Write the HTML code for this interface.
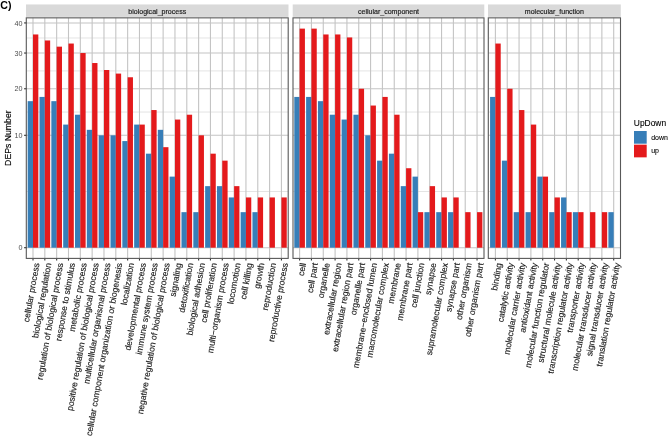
<!DOCTYPE html>
<html><head><meta charset="utf-8"><style>
html,body{margin:0;padding:0;background:#fff;}
body{width:669px;height:437px;overflow:hidden;}
svg{display:block;font-family:"Liberation Sans",sans-serif;filter:blur(0.4px);}
</style></head><body>
<svg width="669" height="437" viewBox="0 0 669 437">
<rect x="0" y="0" width="669" height="437" fill="#fff"/>
<rect x="26.00" y="4.45" width="262.50" height="12.45" fill="#D9D9D9"/>
<text x="157.25" y="13.7" font-size="7.05" fill="#1A1A1A" stroke="#1A1A1A" stroke-width="0.15" text-anchor="middle">biological_process</text>
<line x1="26.3" x2="288.2" y1="191.51" y2="191.51" stroke="#D9D9D9" stroke-width="0.7"/>
<line x1="26.3" x2="288.2" y1="112.04" y2="112.04" stroke="#D9D9D9" stroke-width="0.7"/>
<line x1="26.3" x2="288.2" y1="70.90" y2="70.90" stroke="#D9D9D9" stroke-width="0.7"/>
<line x1="26.3" x2="288.2" y1="37.98" y2="37.98" stroke="#D9D9D9" stroke-width="0.7"/>
<line x1="26.3" x2="288.2" y1="247.70" y2="247.70" stroke="#C4C4C4" stroke-width="1.1"/>
<line x1="26.3" x2="288.2" y1="135.31" y2="135.31" stroke="#C4C4C4" stroke-width="1.1"/>
<line x1="26.3" x2="288.2" y1="88.76" y2="88.76" stroke="#C4C4C4" stroke-width="1.1"/>
<line x1="26.3" x2="288.2" y1="53.04" y2="53.04" stroke="#C4C4C4" stroke-width="1.1"/>
<line x1="26.3" x2="288.2" y1="22.93" y2="22.93" stroke="#C4C4C4" stroke-width="1.1"/>
<line x1="33.00" x2="33.00" y1="17.85" y2="258.4" stroke="#C4C4C4" stroke-width="1.1"/>
<line x1="44.83" x2="44.83" y1="17.85" y2="258.4" stroke="#C4C4C4" stroke-width="1.1"/>
<line x1="56.66" x2="56.66" y1="17.85" y2="258.4" stroke="#C4C4C4" stroke-width="1.1"/>
<line x1="68.49" x2="68.49" y1="17.85" y2="258.4" stroke="#C4C4C4" stroke-width="1.1"/>
<line x1="80.32" x2="80.32" y1="17.85" y2="258.4" stroke="#C4C4C4" stroke-width="1.1"/>
<line x1="92.15" x2="92.15" y1="17.85" y2="258.4" stroke="#C4C4C4" stroke-width="1.1"/>
<line x1="103.98" x2="103.98" y1="17.85" y2="258.4" stroke="#C4C4C4" stroke-width="1.1"/>
<line x1="115.81" x2="115.81" y1="17.85" y2="258.4" stroke="#C4C4C4" stroke-width="1.1"/>
<line x1="127.64" x2="127.64" y1="17.85" y2="258.4" stroke="#C4C4C4" stroke-width="1.1"/>
<line x1="139.47" x2="139.47" y1="17.85" y2="258.4" stroke="#C4C4C4" stroke-width="1.1"/>
<line x1="151.30" x2="151.30" y1="17.85" y2="258.4" stroke="#C4C4C4" stroke-width="1.1"/>
<line x1="163.13" x2="163.13" y1="17.85" y2="258.4" stroke="#C4C4C4" stroke-width="1.1"/>
<line x1="174.96" x2="174.96" y1="17.85" y2="258.4" stroke="#C4C4C4" stroke-width="1.1"/>
<line x1="186.79" x2="186.79" y1="17.85" y2="258.4" stroke="#C4C4C4" stroke-width="1.1"/>
<line x1="198.62" x2="198.62" y1="17.85" y2="258.4" stroke="#C4C4C4" stroke-width="1.1"/>
<line x1="210.45" x2="210.45" y1="17.85" y2="258.4" stroke="#C4C4C4" stroke-width="1.1"/>
<line x1="222.28" x2="222.28" y1="17.85" y2="258.4" stroke="#C4C4C4" stroke-width="1.1"/>
<line x1="234.11" x2="234.11" y1="17.85" y2="258.4" stroke="#C4C4C4" stroke-width="1.1"/>
<line x1="245.94" x2="245.94" y1="17.85" y2="258.4" stroke="#C4C4C4" stroke-width="1.1"/>
<line x1="257.77" x2="257.77" y1="17.85" y2="258.4" stroke="#C4C4C4" stroke-width="1.1"/>
<line x1="269.60" x2="269.60" y1="17.85" y2="258.4" stroke="#C4C4C4" stroke-width="1.1"/>
<line x1="281.43" x2="281.43" y1="17.85" y2="258.4" stroke="#C4C4C4" stroke-width="1.1"/>
<rect x="27.68" y="101.16" width="5.32" height="146.54" fill="#377EB8"/>
<rect x="33.00" y="34.46" width="5.32" height="213.24" fill="#E41A1C"/>
<line x1="33.00" x2="33.00" y1="258.4" y2="260.60" stroke="#333" stroke-width="1.1"/>
<text transform="translate(39.50,263.50) rotate(-80)" font-size="8.65" fill="#1A1A1A" stroke="#1A1A1A" stroke-width="0.15" text-anchor="end">cellular process</text>
<rect x="39.51" y="96.92" width="5.32" height="150.78" fill="#377EB8"/>
<rect x="44.83" y="40.47" width="5.32" height="207.23" fill="#E41A1C"/>
<line x1="44.83" x2="44.83" y1="258.4" y2="260.60" stroke="#333" stroke-width="1.1"/>
<text transform="translate(51.33,263.50) rotate(-80)" font-size="8.65" fill="#1A1A1A" stroke="#1A1A1A" stroke-width="0.15" text-anchor="end">biological regulation</text>
<rect x="51.34" y="101.16" width="5.32" height="146.54" fill="#377EB8"/>
<rect x="56.66" y="46.66" width="5.32" height="201.04" fill="#E41A1C"/>
<line x1="56.66" x2="56.66" y1="258.4" y2="260.60" stroke="#333" stroke-width="1.1"/>
<text transform="translate(63.16,263.50) rotate(-80)" font-size="8.65" fill="#1A1A1A" stroke="#1A1A1A" stroke-width="0.15" text-anchor="end">regulation of biological process</text>
<rect x="63.17" y="124.59" width="5.32" height="123.11" fill="#377EB8"/>
<rect x="68.49" y="43.54" width="5.32" height="204.16" fill="#E41A1C"/>
<line x1="68.49" x2="68.49" y1="258.4" y2="260.60" stroke="#333" stroke-width="1.1"/>
<text transform="translate(74.99,263.50) rotate(-80)" font-size="8.65" fill="#1A1A1A" stroke="#1A1A1A" stroke-width="0.15" text-anchor="end">response to stimulus</text>
<rect x="75.00" y="114.72" width="5.32" height="132.98" fill="#377EB8"/>
<rect x="80.32" y="53.04" width="5.32" height="194.66" fill="#E41A1C"/>
<line x1="80.32" x2="80.32" y1="258.4" y2="260.60" stroke="#333" stroke-width="1.1"/>
<text transform="translate(86.82,263.50) rotate(-80)" font-size="8.65" fill="#1A1A1A" stroke="#1A1A1A" stroke-width="0.15" text-anchor="end">metabolic process</text>
<rect x="86.83" y="129.83" width="5.32" height="117.87" fill="#377EB8"/>
<rect x="92.15" y="63.03" width="5.32" height="184.67" fill="#E41A1C"/>
<line x1="92.15" x2="92.15" y1="258.4" y2="260.60" stroke="#333" stroke-width="1.1"/>
<text transform="translate(98.65,263.50) rotate(-80)" font-size="8.65" fill="#1A1A1A" stroke="#1A1A1A" stroke-width="0.15" text-anchor="end">positive regulation of biological process</text>
<rect x="98.66" y="135.31" width="5.32" height="112.39" fill="#377EB8"/>
<rect x="103.98" y="70.00" width="5.32" height="177.70" fill="#E41A1C"/>
<line x1="103.98" x2="103.98" y1="258.4" y2="260.60" stroke="#333" stroke-width="1.1"/>
<text transform="translate(110.48,263.50) rotate(-80)" font-size="8.65" fill="#1A1A1A" stroke="#1A1A1A" stroke-width="0.15" text-anchor="end">multicellular organismal process</text>
<rect x="110.49" y="135.31" width="5.32" height="112.39" fill="#377EB8"/>
<rect x="115.81" y="73.59" width="5.32" height="174.11" fill="#E41A1C"/>
<line x1="115.81" x2="115.81" y1="258.4" y2="260.60" stroke="#333" stroke-width="1.1"/>
<text transform="translate(122.31,263.50) rotate(-80)" font-size="8.65" fill="#1A1A1A" stroke="#1A1A1A" stroke-width="0.15" text-anchor="end">cellular component organization or biogenesis</text>
<rect x="122.32" y="141.08" width="5.32" height="106.62" fill="#377EB8"/>
<rect x="127.64" y="77.26" width="5.32" height="170.44" fill="#E41A1C"/>
<line x1="127.64" x2="127.64" y1="258.4" y2="260.60" stroke="#333" stroke-width="1.1"/>
<text transform="translate(134.14,263.50) rotate(-80)" font-size="8.65" fill="#1A1A1A" stroke="#1A1A1A" stroke-width="0.15" text-anchor="end">localization</text>
<rect x="134.15" y="124.59" width="5.32" height="123.11" fill="#377EB8"/>
<rect x="139.47" y="124.59" width="5.32" height="123.11" fill="#E41A1C"/>
<line x1="139.47" x2="139.47" y1="258.4" y2="260.60" stroke="#333" stroke-width="1.1"/>
<text transform="translate(145.97,263.50) rotate(-80)" font-size="8.65" fill="#1A1A1A" stroke="#1A1A1A" stroke-width="0.15" text-anchor="end">developmental process</text>
<rect x="145.98" y="153.67" width="5.32" height="94.03" fill="#377EB8"/>
<rect x="151.30" y="110.05" width="5.32" height="137.65" fill="#E41A1C"/>
<line x1="151.30" x2="151.30" y1="258.4" y2="260.60" stroke="#333" stroke-width="1.1"/>
<text transform="translate(157.80,263.50) rotate(-80)" font-size="8.65" fill="#1A1A1A" stroke="#1A1A1A" stroke-width="0.15" text-anchor="end">immune system process</text>
<rect x="157.81" y="129.83" width="5.32" height="117.87" fill="#377EB8"/>
<rect x="163.13" y="147.18" width="5.32" height="100.52" fill="#E41A1C"/>
<line x1="163.13" x2="163.13" y1="258.4" y2="260.60" stroke="#333" stroke-width="1.1"/>
<text transform="translate(169.63,263.50) rotate(-80)" font-size="8.65" fill="#1A1A1A" stroke="#1A1A1A" stroke-width="0.15" text-anchor="end">negative regulation of biological process</text>
<rect x="169.64" y="176.62" width="5.32" height="71.08" fill="#377EB8"/>
<rect x="174.96" y="119.56" width="5.32" height="128.14" fill="#E41A1C"/>
<line x1="174.96" x2="174.96" y1="258.4" y2="260.60" stroke="#333" stroke-width="1.1"/>
<text transform="translate(181.46,263.50) rotate(-80)" font-size="8.65" fill="#1A1A1A" stroke="#1A1A1A" stroke-width="0.15" text-anchor="end">signaling</text>
<rect x="181.47" y="212.16" width="5.32" height="35.54" fill="#377EB8"/>
<rect x="186.79" y="114.72" width="5.32" height="132.98" fill="#E41A1C"/>
<line x1="186.79" x2="186.79" y1="258.4" y2="260.60" stroke="#333" stroke-width="1.1"/>
<text transform="translate(193.29,263.50) rotate(-80)" font-size="8.65" fill="#1A1A1A" stroke="#1A1A1A" stroke-width="0.15" text-anchor="end">detoxification</text>
<rect x="193.30" y="212.16" width="5.32" height="35.54" fill="#377EB8"/>
<rect x="198.62" y="135.31" width="5.32" height="112.39" fill="#E41A1C"/>
<line x1="198.62" x2="198.62" y1="258.4" y2="260.60" stroke="#333" stroke-width="1.1"/>
<text transform="translate(205.12,263.50) rotate(-80)" font-size="8.65" fill="#1A1A1A" stroke="#1A1A1A" stroke-width="0.15" text-anchor="end">biological adhesion</text>
<rect x="205.13" y="186.14" width="5.32" height="61.56" fill="#377EB8"/>
<rect x="210.45" y="153.67" width="5.32" height="94.03" fill="#E41A1C"/>
<line x1="210.45" x2="210.45" y1="258.4" y2="260.60" stroke="#333" stroke-width="1.1"/>
<text transform="translate(216.95,263.50) rotate(-80)" font-size="8.65" fill="#1A1A1A" stroke="#1A1A1A" stroke-width="0.15" text-anchor="end">cell proliferation</text>
<rect x="216.96" y="186.14" width="5.32" height="61.56" fill="#377EB8"/>
<rect x="222.28" y="160.65" width="5.32" height="87.05" fill="#E41A1C"/>
<line x1="222.28" x2="222.28" y1="258.4" y2="260.60" stroke="#333" stroke-width="1.1"/>
<text transform="translate(228.78,263.50) rotate(-80)" font-size="8.65" fill="#1A1A1A" stroke="#1A1A1A" stroke-width="0.15" text-anchor="end">multi−organism process</text>
<rect x="228.79" y="197.44" width="5.32" height="50.26" fill="#377EB8"/>
<rect x="234.11" y="186.14" width="5.32" height="61.56" fill="#E41A1C"/>
<line x1="234.11" x2="234.11" y1="258.4" y2="260.60" stroke="#333" stroke-width="1.1"/>
<text transform="translate(240.61,263.50) rotate(-80)" font-size="8.65" fill="#1A1A1A" stroke="#1A1A1A" stroke-width="0.15" text-anchor="end">locomotion</text>
<rect x="240.62" y="212.16" width="5.32" height="35.54" fill="#377EB8"/>
<rect x="245.94" y="197.44" width="5.32" height="50.26" fill="#E41A1C"/>
<line x1="245.94" x2="245.94" y1="258.4" y2="260.60" stroke="#333" stroke-width="1.1"/>
<text transform="translate(252.44,263.50) rotate(-80)" font-size="8.65" fill="#1A1A1A" stroke="#1A1A1A" stroke-width="0.15" text-anchor="end">cell killing</text>
<rect x="252.45" y="212.16" width="5.32" height="35.54" fill="#377EB8"/>
<rect x="257.77" y="197.44" width="5.32" height="50.26" fill="#E41A1C"/>
<line x1="257.77" x2="257.77" y1="258.4" y2="260.60" stroke="#333" stroke-width="1.1"/>
<text transform="translate(264.27,263.50) rotate(-80)" font-size="8.65" fill="#1A1A1A" stroke="#1A1A1A" stroke-width="0.15" text-anchor="end">growth</text>
<rect x="269.60" y="197.44" width="5.32" height="50.26" fill="#E41A1C"/>
<line x1="269.60" x2="269.60" y1="258.4" y2="260.60" stroke="#333" stroke-width="1.1"/>
<text transform="translate(276.10,263.50) rotate(-80)" font-size="8.65" fill="#1A1A1A" stroke="#1A1A1A" stroke-width="0.15" text-anchor="end">reproduction</text>
<rect x="281.43" y="197.44" width="5.32" height="50.26" fill="#E41A1C"/>
<line x1="281.43" x2="281.43" y1="258.4" y2="260.60" stroke="#333" stroke-width="1.1"/>
<text transform="translate(287.93,263.50) rotate(-80)" font-size="8.65" fill="#1A1A1A" stroke="#1A1A1A" stroke-width="0.15" text-anchor="end">reproductive process</text>
<rect x="26.30" y="17.85" width="261.90" height="240.55" fill="none" stroke="#585858" stroke-width="1.1"/>
<rect x="292.70" y="4.45" width="191.60" height="12.45" fill="#D9D9D9"/>
<text x="388.50" y="13.7" font-size="7.05" fill="#1A1A1A" stroke="#1A1A1A" stroke-width="0.15" text-anchor="middle">cellular_component</text>
<line x1="293.0" x2="484.0" y1="191.51" y2="191.51" stroke="#D9D9D9" stroke-width="0.7"/>
<line x1="293.0" x2="484.0" y1="112.04" y2="112.04" stroke="#D9D9D9" stroke-width="0.7"/>
<line x1="293.0" x2="484.0" y1="70.90" y2="70.90" stroke="#D9D9D9" stroke-width="0.7"/>
<line x1="293.0" x2="484.0" y1="37.98" y2="37.98" stroke="#D9D9D9" stroke-width="0.7"/>
<line x1="293.0" x2="484.0" y1="247.70" y2="247.70" stroke="#C4C4C4" stroke-width="1.1"/>
<line x1="293.0" x2="484.0" y1="135.31" y2="135.31" stroke="#C4C4C4" stroke-width="1.1"/>
<line x1="293.0" x2="484.0" y1="88.76" y2="88.76" stroke="#C4C4C4" stroke-width="1.1"/>
<line x1="293.0" x2="484.0" y1="53.04" y2="53.04" stroke="#C4C4C4" stroke-width="1.1"/>
<line x1="293.0" x2="484.0" y1="22.93" y2="22.93" stroke="#C4C4C4" stroke-width="1.1"/>
<line x1="299.60" x2="299.60" y1="17.85" y2="258.4" stroke="#C4C4C4" stroke-width="1.1"/>
<line x1="311.43" x2="311.43" y1="17.85" y2="258.4" stroke="#C4C4C4" stroke-width="1.1"/>
<line x1="323.26" x2="323.26" y1="17.85" y2="258.4" stroke="#C4C4C4" stroke-width="1.1"/>
<line x1="335.09" x2="335.09" y1="17.85" y2="258.4" stroke="#C4C4C4" stroke-width="1.1"/>
<line x1="346.92" x2="346.92" y1="17.85" y2="258.4" stroke="#C4C4C4" stroke-width="1.1"/>
<line x1="358.75" x2="358.75" y1="17.85" y2="258.4" stroke="#C4C4C4" stroke-width="1.1"/>
<line x1="370.58" x2="370.58" y1="17.85" y2="258.4" stroke="#C4C4C4" stroke-width="1.1"/>
<line x1="382.41" x2="382.41" y1="17.85" y2="258.4" stroke="#C4C4C4" stroke-width="1.1"/>
<line x1="394.24" x2="394.24" y1="17.85" y2="258.4" stroke="#C4C4C4" stroke-width="1.1"/>
<line x1="406.07" x2="406.07" y1="17.85" y2="258.4" stroke="#C4C4C4" stroke-width="1.1"/>
<line x1="417.90" x2="417.90" y1="17.85" y2="258.4" stroke="#C4C4C4" stroke-width="1.1"/>
<line x1="429.73" x2="429.73" y1="17.85" y2="258.4" stroke="#C4C4C4" stroke-width="1.1"/>
<line x1="441.56" x2="441.56" y1="17.85" y2="258.4" stroke="#C4C4C4" stroke-width="1.1"/>
<line x1="453.39" x2="453.39" y1="17.85" y2="258.4" stroke="#C4C4C4" stroke-width="1.1"/>
<line x1="465.22" x2="465.22" y1="17.85" y2="258.4" stroke="#C4C4C4" stroke-width="1.1"/>
<line x1="477.05" x2="477.05" y1="17.85" y2="258.4" stroke="#C4C4C4" stroke-width="1.1"/>
<rect x="294.28" y="96.92" width="5.32" height="150.78" fill="#377EB8"/>
<rect x="299.60" y="28.62" width="5.32" height="219.08" fill="#E41A1C"/>
<line x1="299.60" x2="299.60" y1="258.4" y2="260.60" stroke="#333" stroke-width="1.1"/>
<text transform="translate(306.10,263.50) rotate(-80)" font-size="8.65" fill="#1A1A1A" stroke="#1A1A1A" stroke-width="0.15" text-anchor="end">cell</text>
<rect x="306.11" y="96.92" width="5.32" height="150.78" fill="#377EB8"/>
<rect x="311.43" y="28.62" width="5.32" height="219.08" fill="#E41A1C"/>
<line x1="311.43" x2="311.43" y1="258.4" y2="260.60" stroke="#333" stroke-width="1.1"/>
<text transform="translate(317.93,263.50) rotate(-80)" font-size="8.65" fill="#1A1A1A" stroke="#1A1A1A" stroke-width="0.15" text-anchor="end">cell part</text>
<rect x="317.94" y="101.16" width="5.32" height="146.54" fill="#377EB8"/>
<rect x="323.26" y="34.46" width="5.32" height="213.24" fill="#E41A1C"/>
<line x1="323.26" x2="323.26" y1="258.4" y2="260.60" stroke="#333" stroke-width="1.1"/>
<text transform="translate(329.76,263.50) rotate(-80)" font-size="8.65" fill="#1A1A1A" stroke="#1A1A1A" stroke-width="0.15" text-anchor="end">organelle</text>
<rect x="329.77" y="114.72" width="5.32" height="132.98" fill="#377EB8"/>
<rect x="335.09" y="34.46" width="5.32" height="213.24" fill="#E41A1C"/>
<line x1="335.09" x2="335.09" y1="258.4" y2="260.60" stroke="#333" stroke-width="1.1"/>
<text transform="translate(341.59,263.50) rotate(-80)" font-size="8.65" fill="#1A1A1A" stroke="#1A1A1A" stroke-width="0.15" text-anchor="end">extracellular region</text>
<rect x="341.60" y="119.56" width="5.32" height="128.14" fill="#377EB8"/>
<rect x="346.92" y="37.44" width="5.32" height="210.26" fill="#E41A1C"/>
<line x1="346.92" x2="346.92" y1="258.4" y2="260.60" stroke="#333" stroke-width="1.1"/>
<text transform="translate(353.42,263.50) rotate(-80)" font-size="8.65" fill="#1A1A1A" stroke="#1A1A1A" stroke-width="0.15" text-anchor="end">extracellular region part</text>
<rect x="353.43" y="114.72" width="5.32" height="132.98" fill="#377EB8"/>
<rect x="358.75" y="88.76" width="5.32" height="158.94" fill="#E41A1C"/>
<line x1="358.75" x2="358.75" y1="258.4" y2="260.60" stroke="#333" stroke-width="1.1"/>
<text transform="translate(365.25,263.50) rotate(-80)" font-size="8.65" fill="#1A1A1A" stroke="#1A1A1A" stroke-width="0.15" text-anchor="end">organelle part</text>
<rect x="365.26" y="135.31" width="5.32" height="112.39" fill="#377EB8"/>
<rect x="370.58" y="105.54" width="5.32" height="142.16" fill="#E41A1C"/>
<line x1="370.58" x2="370.58" y1="258.4" y2="260.60" stroke="#333" stroke-width="1.1"/>
<text transform="translate(377.08,263.50) rotate(-80)" font-size="8.65" fill="#1A1A1A" stroke="#1A1A1A" stroke-width="0.15" text-anchor="end">membrane−enclosed lumen</text>
<rect x="377.09" y="160.65" width="5.32" height="87.05" fill="#377EB8"/>
<rect x="382.41" y="96.92" width="5.32" height="150.78" fill="#E41A1C"/>
<line x1="382.41" x2="382.41" y1="258.4" y2="260.60" stroke="#333" stroke-width="1.1"/>
<text transform="translate(388.91,263.50) rotate(-80)" font-size="8.65" fill="#1A1A1A" stroke="#1A1A1A" stroke-width="0.15" text-anchor="end">macromolecular complex</text>
<rect x="388.92" y="153.67" width="5.32" height="94.03" fill="#377EB8"/>
<rect x="394.24" y="114.72" width="5.32" height="132.98" fill="#E41A1C"/>
<line x1="394.24" x2="394.24" y1="258.4" y2="260.60" stroke="#333" stroke-width="1.1"/>
<text transform="translate(400.74,263.50) rotate(-80)" font-size="8.65" fill="#1A1A1A" stroke="#1A1A1A" stroke-width="0.15" text-anchor="end">membrane</text>
<rect x="400.75" y="186.14" width="5.32" height="61.56" fill="#377EB8"/>
<rect x="406.07" y="168.23" width="5.32" height="79.47" fill="#E41A1C"/>
<line x1="406.07" x2="406.07" y1="258.4" y2="260.60" stroke="#333" stroke-width="1.1"/>
<text transform="translate(412.57,263.50) rotate(-80)" font-size="8.65" fill="#1A1A1A" stroke="#1A1A1A" stroke-width="0.15" text-anchor="end">membrane part</text>
<rect x="412.58" y="176.62" width="5.32" height="71.08" fill="#377EB8"/>
<rect x="417.90" y="212.16" width="5.32" height="35.54" fill="#E41A1C"/>
<line x1="417.90" x2="417.90" y1="258.4" y2="260.60" stroke="#333" stroke-width="1.1"/>
<text transform="translate(424.40,263.50) rotate(-80)" font-size="8.65" fill="#1A1A1A" stroke="#1A1A1A" stroke-width="0.15" text-anchor="end">cell junction</text>
<rect x="424.41" y="212.16" width="5.32" height="35.54" fill="#377EB8"/>
<rect x="429.73" y="186.14" width="5.32" height="61.56" fill="#E41A1C"/>
<line x1="429.73" x2="429.73" y1="258.4" y2="260.60" stroke="#333" stroke-width="1.1"/>
<text transform="translate(436.23,263.50) rotate(-80)" font-size="8.65" fill="#1A1A1A" stroke="#1A1A1A" stroke-width="0.15" text-anchor="end">synapse</text>
<rect x="436.24" y="212.16" width="5.32" height="35.54" fill="#377EB8"/>
<rect x="441.56" y="197.44" width="5.32" height="50.26" fill="#E41A1C"/>
<line x1="441.56" x2="441.56" y1="258.4" y2="260.60" stroke="#333" stroke-width="1.1"/>
<text transform="translate(448.06,263.50) rotate(-80)" font-size="8.65" fill="#1A1A1A" stroke="#1A1A1A" stroke-width="0.15" text-anchor="end">supramolecular complex</text>
<rect x="448.07" y="212.16" width="5.32" height="35.54" fill="#377EB8"/>
<rect x="453.39" y="197.44" width="5.32" height="50.26" fill="#E41A1C"/>
<line x1="453.39" x2="453.39" y1="258.4" y2="260.60" stroke="#333" stroke-width="1.1"/>
<text transform="translate(459.89,263.50) rotate(-80)" font-size="8.65" fill="#1A1A1A" stroke="#1A1A1A" stroke-width="0.15" text-anchor="end">synapse part</text>
<rect x="465.22" y="212.16" width="5.32" height="35.54" fill="#E41A1C"/>
<line x1="465.22" x2="465.22" y1="258.4" y2="260.60" stroke="#333" stroke-width="1.1"/>
<text transform="translate(471.72,263.50) rotate(-80)" font-size="8.65" fill="#1A1A1A" stroke="#1A1A1A" stroke-width="0.15" text-anchor="end">other organism</text>
<rect x="477.05" y="212.16" width="5.32" height="35.54" fill="#E41A1C"/>
<line x1="477.05" x2="477.05" y1="258.4" y2="260.60" stroke="#333" stroke-width="1.1"/>
<text transform="translate(483.55,263.50) rotate(-80)" font-size="8.65" fill="#1A1A1A" stroke="#1A1A1A" stroke-width="0.15" text-anchor="end">other organism part</text>
<rect x="293.00" y="17.85" width="191.00" height="240.55" fill="none" stroke="#585858" stroke-width="1.1"/>
<rect x="488.00" y="4.45" width="132.80" height="12.45" fill="#D9D9D9"/>
<text x="554.40" y="13.7" font-size="7.05" fill="#1A1A1A" stroke="#1A1A1A" stroke-width="0.15" text-anchor="middle">molecular_function</text>
<line x1="488.3" x2="620.5" y1="191.51" y2="191.51" stroke="#D9D9D9" stroke-width="0.7"/>
<line x1="488.3" x2="620.5" y1="112.04" y2="112.04" stroke="#D9D9D9" stroke-width="0.7"/>
<line x1="488.3" x2="620.5" y1="70.90" y2="70.90" stroke="#D9D9D9" stroke-width="0.7"/>
<line x1="488.3" x2="620.5" y1="37.98" y2="37.98" stroke="#D9D9D9" stroke-width="0.7"/>
<line x1="488.3" x2="620.5" y1="247.70" y2="247.70" stroke="#C4C4C4" stroke-width="1.1"/>
<line x1="488.3" x2="620.5" y1="135.31" y2="135.31" stroke="#C4C4C4" stroke-width="1.1"/>
<line x1="488.3" x2="620.5" y1="88.76" y2="88.76" stroke="#C4C4C4" stroke-width="1.1"/>
<line x1="488.3" x2="620.5" y1="53.04" y2="53.04" stroke="#C4C4C4" stroke-width="1.1"/>
<line x1="488.3" x2="620.5" y1="22.93" y2="22.93" stroke="#C4C4C4" stroke-width="1.1"/>
<line x1="495.40" x2="495.40" y1="17.85" y2="258.4" stroke="#C4C4C4" stroke-width="1.1"/>
<line x1="507.23" x2="507.23" y1="17.85" y2="258.4" stroke="#C4C4C4" stroke-width="1.1"/>
<line x1="519.06" x2="519.06" y1="17.85" y2="258.4" stroke="#C4C4C4" stroke-width="1.1"/>
<line x1="530.89" x2="530.89" y1="17.85" y2="258.4" stroke="#C4C4C4" stroke-width="1.1"/>
<line x1="542.72" x2="542.72" y1="17.85" y2="258.4" stroke="#C4C4C4" stroke-width="1.1"/>
<line x1="554.55" x2="554.55" y1="17.85" y2="258.4" stroke="#C4C4C4" stroke-width="1.1"/>
<line x1="566.38" x2="566.38" y1="17.85" y2="258.4" stroke="#C4C4C4" stroke-width="1.1"/>
<line x1="578.21" x2="578.21" y1="17.85" y2="258.4" stroke="#C4C4C4" stroke-width="1.1"/>
<line x1="590.04" x2="590.04" y1="17.85" y2="258.4" stroke="#C4C4C4" stroke-width="1.1"/>
<line x1="601.87" x2="601.87" y1="17.85" y2="258.4" stroke="#C4C4C4" stroke-width="1.1"/>
<line x1="613.70" x2="613.70" y1="17.85" y2="258.4" stroke="#C4C4C4" stroke-width="1.1"/>
<rect x="490.08" y="96.92" width="5.32" height="150.78" fill="#377EB8"/>
<rect x="495.40" y="43.54" width="5.32" height="204.16" fill="#E41A1C"/>
<line x1="495.40" x2="495.40" y1="258.4" y2="260.60" stroke="#333" stroke-width="1.1"/>
<text transform="translate(501.90,263.50) rotate(-80)" font-size="8.65" fill="#1A1A1A" stroke="#1A1A1A" stroke-width="0.15" text-anchor="end">binding</text>
<rect x="501.91" y="160.65" width="5.32" height="87.05" fill="#377EB8"/>
<rect x="507.23" y="88.76" width="5.32" height="158.94" fill="#E41A1C"/>
<line x1="507.23" x2="507.23" y1="258.4" y2="260.60" stroke="#333" stroke-width="1.1"/>
<text transform="translate(513.73,263.50) rotate(-80)" font-size="8.65" fill="#1A1A1A" stroke="#1A1A1A" stroke-width="0.15" text-anchor="end">catalytic activity</text>
<rect x="513.74" y="212.16" width="5.32" height="35.54" fill="#377EB8"/>
<rect x="519.06" y="110.05" width="5.32" height="137.65" fill="#E41A1C"/>
<line x1="519.06" x2="519.06" y1="258.4" y2="260.60" stroke="#333" stroke-width="1.1"/>
<text transform="translate(525.56,263.50) rotate(-80)" font-size="8.65" fill="#1A1A1A" stroke="#1A1A1A" stroke-width="0.15" text-anchor="end">molecular carrier activity</text>
<rect x="525.57" y="212.16" width="5.32" height="35.54" fill="#377EB8"/>
<rect x="530.89" y="124.59" width="5.32" height="123.11" fill="#E41A1C"/>
<line x1="530.89" x2="530.89" y1="258.4" y2="260.60" stroke="#333" stroke-width="1.1"/>
<text transform="translate(537.39,263.50) rotate(-80)" font-size="8.65" fill="#1A1A1A" stroke="#1A1A1A" stroke-width="0.15" text-anchor="end">antioxidant activity</text>
<rect x="537.40" y="176.62" width="5.32" height="71.08" fill="#377EB8"/>
<rect x="542.72" y="176.62" width="5.32" height="71.08" fill="#E41A1C"/>
<line x1="542.72" x2="542.72" y1="258.4" y2="260.60" stroke="#333" stroke-width="1.1"/>
<text transform="translate(549.22,263.50) rotate(-80)" font-size="8.65" fill="#1A1A1A" stroke="#1A1A1A" stroke-width="0.15" text-anchor="end">molecular function regulator</text>
<rect x="549.23" y="212.16" width="5.32" height="35.54" fill="#377EB8"/>
<rect x="554.55" y="197.44" width="5.32" height="50.26" fill="#E41A1C"/>
<line x1="554.55" x2="554.55" y1="258.4" y2="260.60" stroke="#333" stroke-width="1.1"/>
<text transform="translate(561.05,263.50) rotate(-80)" font-size="8.65" fill="#1A1A1A" stroke="#1A1A1A" stroke-width="0.15" text-anchor="end">structural molecule activity</text>
<rect x="561.06" y="197.44" width="5.32" height="50.26" fill="#377EB8"/>
<rect x="566.38" y="212.16" width="5.32" height="35.54" fill="#E41A1C"/>
<line x1="566.38" x2="566.38" y1="258.4" y2="260.60" stroke="#333" stroke-width="1.1"/>
<text transform="translate(572.88,263.50) rotate(-80)" font-size="8.65" fill="#1A1A1A" stroke="#1A1A1A" stroke-width="0.15" text-anchor="end">transcription regulator activity</text>
<rect x="572.89" y="212.16" width="5.32" height="35.54" fill="#377EB8"/>
<rect x="578.21" y="212.16" width="5.32" height="35.54" fill="#E41A1C"/>
<line x1="578.21" x2="578.21" y1="258.4" y2="260.60" stroke="#333" stroke-width="1.1"/>
<text transform="translate(584.71,263.50) rotate(-80)" font-size="8.65" fill="#1A1A1A" stroke="#1A1A1A" stroke-width="0.15" text-anchor="end">transporter activity</text>
<rect x="590.04" y="212.16" width="5.32" height="35.54" fill="#E41A1C"/>
<line x1="590.04" x2="590.04" y1="258.4" y2="260.60" stroke="#333" stroke-width="1.1"/>
<text transform="translate(596.54,263.50) rotate(-80)" font-size="8.65" fill="#1A1A1A" stroke="#1A1A1A" stroke-width="0.15" text-anchor="end">molecular transducer activity</text>
<rect x="601.87" y="212.16" width="5.32" height="35.54" fill="#E41A1C"/>
<line x1="601.87" x2="601.87" y1="258.4" y2="260.60" stroke="#333" stroke-width="1.1"/>
<text transform="translate(608.37,263.50) rotate(-80)" font-size="8.65" fill="#1A1A1A" stroke="#1A1A1A" stroke-width="0.15" text-anchor="end">signal transducer activity</text>
<rect x="608.38" y="212.16" width="5.32" height="35.54" fill="#377EB8"/>
<line x1="613.70" x2="613.70" y1="258.4" y2="260.60" stroke="#333" stroke-width="1.1"/>
<text transform="translate(620.20,263.50) rotate(-80)" font-size="8.65" fill="#1A1A1A" stroke="#1A1A1A" stroke-width="0.15" text-anchor="end">translation regulator activity</text>
<rect x="488.30" y="17.85" width="132.20" height="240.55" fill="none" stroke="#585858" stroke-width="1.1"/>
<line x1="24.1" x2="26.3" y1="247.70" y2="247.70" stroke="#333" stroke-width="1.1"/>
<text x="22.4" y="250.30" font-size="7.2" fill="#4D4D4D" text-anchor="end">0</text>
<line x1="24.1" x2="26.3" y1="135.31" y2="135.31" stroke="#333" stroke-width="1.1"/>
<text x="22.4" y="137.91" font-size="7.2" fill="#4D4D4D" text-anchor="end">10</text>
<line x1="24.1" x2="26.3" y1="88.76" y2="88.76" stroke="#333" stroke-width="1.1"/>
<text x="22.4" y="91.36" font-size="7.2" fill="#4D4D4D" text-anchor="end">20</text>
<line x1="24.1" x2="26.3" y1="53.04" y2="53.04" stroke="#333" stroke-width="1.1"/>
<text x="22.4" y="55.64" font-size="7.2" fill="#4D4D4D" text-anchor="end">30</text>
<line x1="24.1" x2="26.3" y1="22.93" y2="22.93" stroke="#333" stroke-width="1.1"/>
<text x="22.4" y="25.53" font-size="7.2" fill="#4D4D4D" text-anchor="end">40</text>
<text transform="translate(10.8,138.12) rotate(-90)" font-size="8.7" fill="#000" stroke="#000" stroke-width="0.15" text-anchor="middle">DEPs Number</text>
<text x="633.8" y="125.5" font-size="8.45" fill="#000" stroke="#000" stroke-width="0.1">UpDown</text>
<rect x="634" y="131.0" width="12.7" height="12.7" fill="#377EB8"/>
<rect x="634" y="144.65" width="12.7" height="12.7" fill="#E41A1C"/>
<text x="651.2" y="139.7" font-size="7" fill="#000" stroke="#000" stroke-width="0.08">down</text>
<text x="651.2" y="153.35" font-size="7" fill="#000" stroke="#000" stroke-width="0.08">up</text>
<text x="0.3" y="9.1" font-size="10.6" font-weight="bold" fill="#000">C)</text>
</svg>
</body></html>
